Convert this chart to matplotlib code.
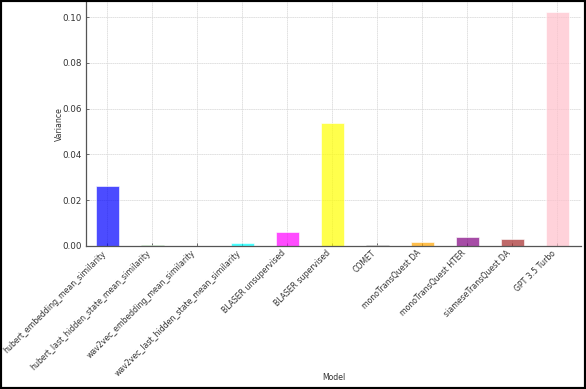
import matplotlib
matplotlib.use('Agg')
from matplotlib import pyplot as plt
from matplotlib.patches import Rectangle

models = ['hubert_embedding_mean_similarity', 'hubert_last_hidden_state_mean_similarity',
          'wav2vec_embedding_mean_similarity', 'wav2vec_last_hidden_state_mean_similarity',
          'BLASER unsupervised', 'BLASER supervised', 'COMET', 'monoTransQuest DA',
          'monoTransQuest HTER', 'siameseTransQuest DA', 'GPT 3.5 Turbo']
variances = [0.0262, 0.0004, 0.0001, 0.0013, 0.0061, 0.0535, 0.0004, 0.0019, 0.0038, 0.0029, 0.102]
colors = ['blue', 'green', 'red', 'cyan', 'magenta', 'yellow', 'black', 'orange',
          'purple', 'brown', 'pink']

fig = plt.figure(figsize=(5.86, 3.89), dpi=100)
ax = fig.add_axes([0.147, 0.368, 0.845, 0.627])

ax.bar(range(len(models)), variances, width=0.5, color=colors, alpha=0.7,
       edgecolor='white', linewidth=0.6, zorder=2)

ax.set_xlim(-0.47, 10.53)
ax.set_ylim(0, 0.1066)
ax.set_yticks([0, 0.02, 0.04, 0.06, 0.08, 0.10])
ax.set_yticklabels(['0.00', '0.02', '0.04', '0.06', '0.08', '0.10'])
ax.set_xticks(range(len(models)))
ax.set_xticklabels(models, rotation=45, ha='right', fontsize=5.6)

ax.grid(True, color='#dddddd', linewidth=0.6, linestyle=(0, (2, 0.6)), zorder=0)
ax.tick_params(axis='both', direction='in', colors='#555555',
               labelcolor='#333333', length=2.5, width=0.6, pad=3)
ax.tick_params(axis='y', labelsize=6.3)
ax.tick_params(axis='x', pad=2)
for s in ['top', 'right']:
    ax.spines[s].set_visible(False)
for s in ['left', 'bottom']:
    ax.spines[s].set_color('#555555')
    ax.spines[s].set_linewidth(0.9)

ax.set_ylabel('Variance', fontsize=5.6, color='#333333')
ax.yaxis.set_label_coords(-0.045, 0.5)
ax.set_xlabel('Model', fontsize=5.6, color='#333333')
ax.xaxis.set_label_coords(0.5, -0.52)

fig.patches.append(Rectangle((0, 0), 1, 1, transform=fig.transFigure, fill=False,
                             edgecolor='black', linewidth=3, zorder=10))

fig.savefig('out.png', dpi=100)
